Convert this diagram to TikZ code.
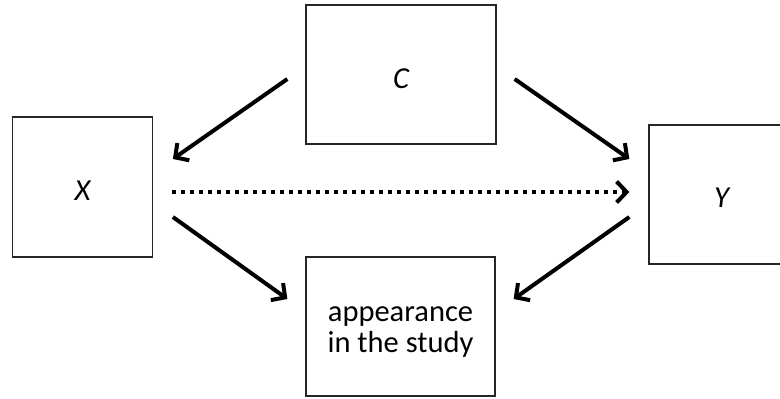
\documentclass[tikz,border=0pt]{standalone}
\usepackage{fontspec}
\setmainfont{Carlito}
\usetikzlibrary{arrows.meta}
\tikzset{
  box/.style={draw=black!85, line width=1.3pt, inner sep=0pt},
  lbl/.style={inner sep=0pt, align=center, font=\fontsize{30.5}{31}\selectfont},
  arr/.style={line width=4pt, -{Straight Barb[length=10pt,width=21pt,line width=4pt]}},
  dotarr/.style={arr, dash pattern=on 4pt off 5pt}
}
\begin{document}
\begin{tikzpicture}[x=1pt,y=-1pt]
\useasboundingbox (0,0) rectangle (780,399);
\clip (0,0) rectangle (780,399);
\node[box, minimum width=139.5pt, minimum height=140pt] (X) at (82.5,187) {};
\node[box, minimum width=190pt, minimum height=139pt] (C) at (401,74.5) {};
\node[box, minimum width=139pt, minimum height=139pt] (Y) at (718.5,194.5) {};
\node[box, minimum width=189pt, minimum height=139pt] (A) at (400.5,326.5) {};
\node[lbl] (Xl) at ([shift={(0,4)}]X.center) {\itshape X};
\node[lbl] (Cl) at ([shift={(0,4.5)}]C.center) {\itshape C};
\node[lbl] (Yl) at ([shift={(3,3)}]Y.center) {\itshape Y};
\node[lbl] (Al) at ([shift={(0,6)}]A.center) {appearance\\in the study};
\coordinate (cxs) at ([shift={(-18,4.5)}]C.west);
\coordinate (cxe) at ([shift={(20,-28)}]X.east);
\coordinate (cys) at ([shift={(18,4.5)}]C.east);
\coordinate (cye) at ([shift={(-19,-35.5)}]Y.west);
\coordinate (xys) at ([shift={(19,5)}]X.east);
\coordinate (xye) at ([shift={(-19,-2.5)}]Y.west);
\coordinate (xas) at ([shift={(20,30)}]X.east);
\coordinate (xae) at ([shift={(-18,-27.5)}]A.west);
\coordinate (yas) at ([shift={(-19,22.5)}]Y.west);
\coordinate (yae) at ([shift={(18,-27.5)}]A.east);
\draw[arr] (cxs) -- (cxe);
\draw[arr] (cys) -- (cye);
\draw[dotarr] (xys) -- (xye);
\draw[arr] (xas) -- (xae);
\draw[arr] (yas) -- (yae);
\end{tikzpicture}
\end{document}
